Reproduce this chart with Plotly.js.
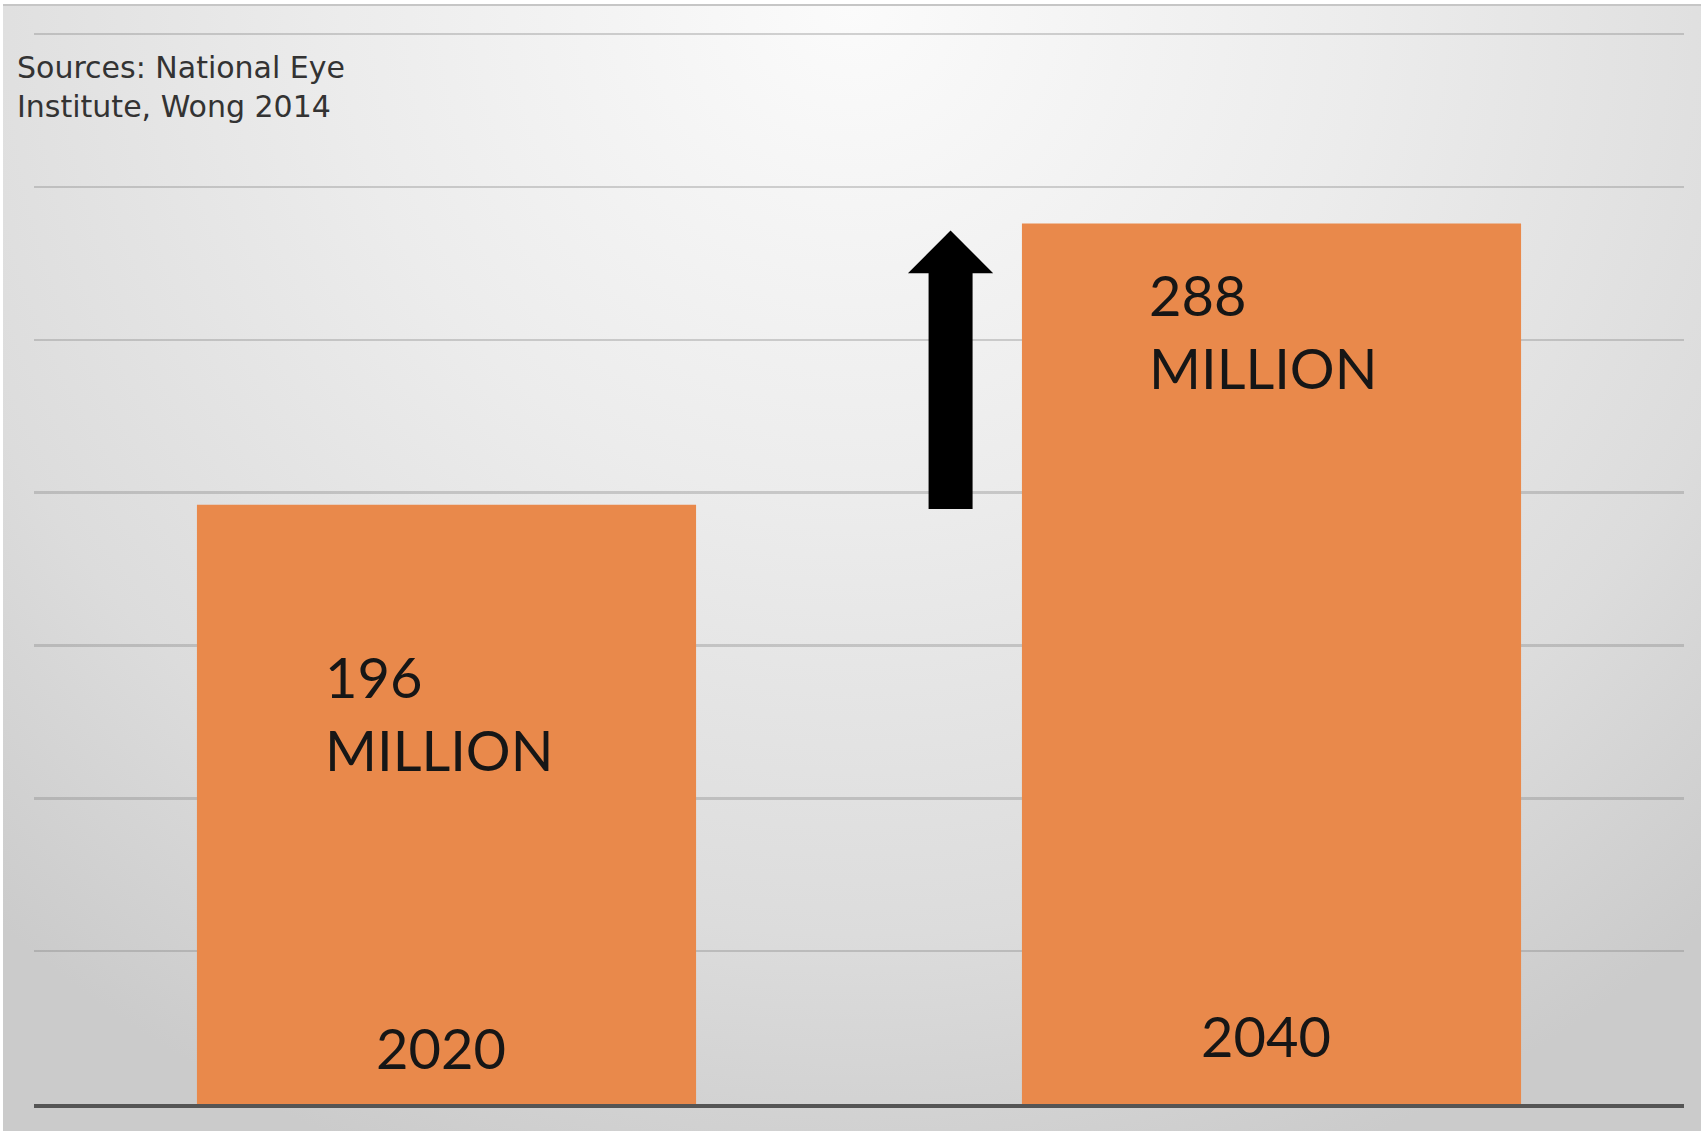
<!DOCTYPE html>
<html>
<head>
<meta charset="utf-8">
<script src="https://cdn.plot.ly/plotly-3.0.1.min.js"></script>
<style>
html, body { margin: 0; padding: 0; background: #ffffff; overflow: hidden; }
#bg {
  position: absolute; left: 3px; top: 4px; width: 1698px; height: 1125px;
  border-top: 2px solid #c6c6c6;
  background: radial-gradient(ellipse 75% 110% at 50% 0%, #fbfbfb 0%, #ececec 40%, #dcdcdc 75%, #cbcbcb 100%);
}
#chart { position: absolute; left: 0; top: 0; width: 1701px; height: 1131px; }
</style>
</head>
<body>
<div id="bg"></div>
<div id="chart"></div>
<script>
// ---- data ----
const years = ["2020", "2040"];
const patientsMillions = [196, 288];
const valueSuffix = "MILLION";
const sourceText = "Sources: National Eye<br>Institute, Wong 2014";

const barColor = "rgb(233,137,75)";
const labelFont = "Lato, 'Open Sans', sans-serif";
const textColor = "#161616";

const trace = {
  type: "bar",
  x: years,
  y: patientsMillions,
  marker: { color: barColor, line: { width: 0 } },
  hoverinfo: "skip"
};

const annotations = [];

// value labels (left aligned inside each bar)
const labelY = [patientsMillions[0] - 68, patientsMillions[1] - 35];
const labelShift = [-124, -125];
years.forEach((yr, i) => {
  annotations.push({
    x: i, xref: "x",
    y: labelY[i], yref: "y",
    text: patientsMillions[i] + "<br>" + valueSuffix,
    showarrow: false,
    xanchor: "left", yanchor: "middle", align: "left",
    xshift: labelShift[i],
    font: { family: labelFont, size: 56, color: textColor }
  });
});

// year labels near the bottom of each bar
const yearY = [18.5, 22.5];
const yearShift = [-6, -6];
years.forEach((yr, i) => {
  annotations.push({
    x: i, xref: "x",
    y: yearY[i], yref: "y",
    text: yr,
    showarrow: false,
    xanchor: "center", yanchor: "middle",
    xshift: yearShift[i],
    font: { family: labelFont, size: 56, color: textColor }
  });
});

// up arrow showing the increase from 2020 to 2040: shaft + head
const arrowX = 0.611;
annotations.push({
  x: arrowX, xref: "x", y: patientsMillions[1] - 14, yref: "y",
  ax: arrowX, axref: "x", ay: patientsMillions[0] - 2, ayref: "y",
  text: " ", font: { size: 1 },
  showarrow: true, arrowhead: 0, arrowwidth: 44,
  arrowcolor: "#000000", standoff: 0
});
annotations.push({
  x: arrowX, xref: "x", y: patientsMillions[1], yref: "y",
  ax: arrowX, axref: "x", ay: patientsMillions[1] - 10, ayref: "y",
  text: " ", font: { size: 1 },
  showarrow: true, arrowhead: 1, arrowsize: 7.1, arrowwidth: 2,
  arrowcolor: "#000000", standoff: 7
});

const layout = {
  width: 1701, height: 1131,
  margin: { l: 34, r: 17, t: 31, b: 27, pad: 0 },
  paper_bgcolor: "rgba(0,0,0,0)",
  plot_bgcolor: "rgba(0,0,0,0)",
  showlegend: false,
  bargap: 0.395,
  title: {
    text: sourceText,
    x: 17 / 1701, xref: "container", xanchor: "left",
    y: 1 - 78 / 1131, yref: "container", yanchor: "top",
    font: { family: "'DejaVu Sans', sans-serif", size: 30, color: "#333333" }
  },
  xaxis: {
    type: "category",
    range: [-0.5, 1.5],
    showgrid: false, zeroline: false,
    showline: true, linecolor: "#555555", linewidth: 3.5,
    ticks: "", showticklabels: false,
    fixedrange: true
  },
  yaxis: {
    range: [0, 351],
    tick0: 0, dtick: 50,
    showgrid: true, gridcolor: "rgba(120,120,120,0.32)", gridwidth: 2.5,
    zeroline: false, showline: false,
    showticklabels: false, ticks: "",
    fixedrange: true
  },
  annotations: annotations
};

Plotly.newPlot("chart", [trace], layout, { displayModeBar: false, staticPlot: true });
</script>
</body>
</html>
